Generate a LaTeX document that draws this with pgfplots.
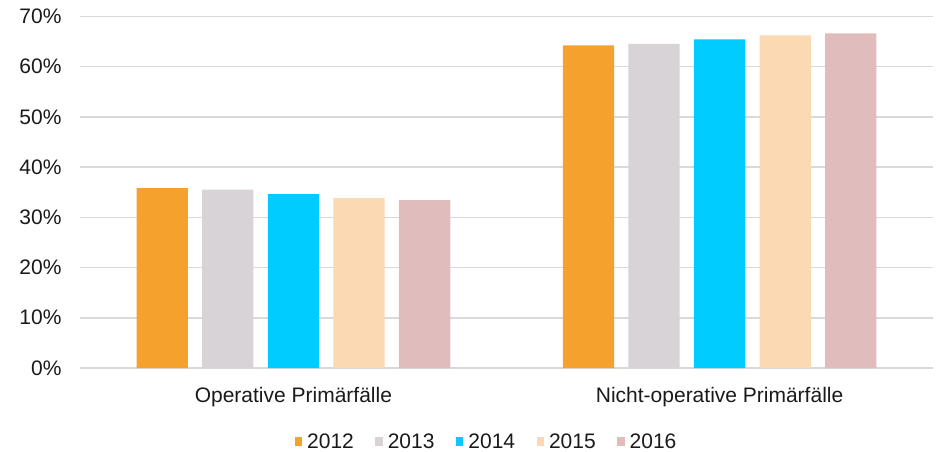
\documentclass[border=0pt]{standalone}
\usepackage{fontspec}
\setmainfont{Liberation Sans}
\usepackage{pgfplots}
\pgfplotsset{compat=1.18}
\definecolor{c12}{HTML}{F4A12D}
\definecolor{c13}{HTML}{D8D3D6}
\definecolor{c14}{HTML}{00CCFF}
\definecolor{c15}{HTML}{FAD9B3}
\definecolor{c16}{HTML}{E0BCBC}
\definecolor{gridgray}{HTML}{D9D9D9}
\definecolor{txt}{HTML}{1A1A1A}
\begin{document}
\begin{tikzpicture}
\path[use as bounding box] (-80.3bp,-84bp) rectangle (860.7bp,368bp);
\begin{axis}[
  at={(0,0)}, anchor=south west,
  scale only axis, width=852.4bp, height=351.7bp,
  xmin=-0.5, xmax=1.5, ymin=0, ymax=70,
  ybar=14.3bp, bar width=51.3bp,
  xtick={0,1},
  xticklabels={Operative Primärfälle, Nicht-operative Primärfälle},
  ytick={0,10,20,30,40,50,60,70},
  yticklabels={0\%,10\%,20\%,30\%,40\%,50\%,60\%,70\%},
  ymajorgrids,
  grid style={color=gridgray, line width=1.5bp},
  axis line style={draw=none},
  major tick length=0pt,
  tick label style={font=\fontsize{21bp}{24bp}\selectfont, text=txt},
  yticklabel style={inner sep=0pt, anchor=east, xshift=-18.6bp},
  xticklabel style={inner sep=0pt, anchor=north, yshift=-19bp},
  legend columns=5,
  legend style={draw=none, fill=none, at={(0.4754,-0.2104)}, anchor=center,
    font=\fontsize{21bp}{24bp}\selectfont, text=txt,
    inner xsep=0pt, inner ysep=0pt,
    nodes={inner sep=0pt},
    /tikz/every odd column/.append style={column sep=5bp},
    /tikz/every even column/.append style={column sep=21.4bp}},
  legend image code/.code={\fill[#1, draw=none] (0bp,-4.5bp) rectangle (7.5bp,4.5bp);},
]
\addplot[fill=c12, draw=none] coordinates {(0,35.8) (1,64.2)};
\addplot[fill=c13, draw=none] coordinates {(0,35.5) (1,64.5)};
\addplot[fill=c14, draw=none] coordinates {(0,34.6) (1,65.4)};
\addplot[fill=c15, draw=none] coordinates {(0,33.8) (1,66.2)};
\addplot[fill=c16, draw=none] coordinates {(0,33.4) (1,66.6)};
\legend{2012,2013,2014,2015,2016}
\end{axis}
\end{tikzpicture}
\end{document}
